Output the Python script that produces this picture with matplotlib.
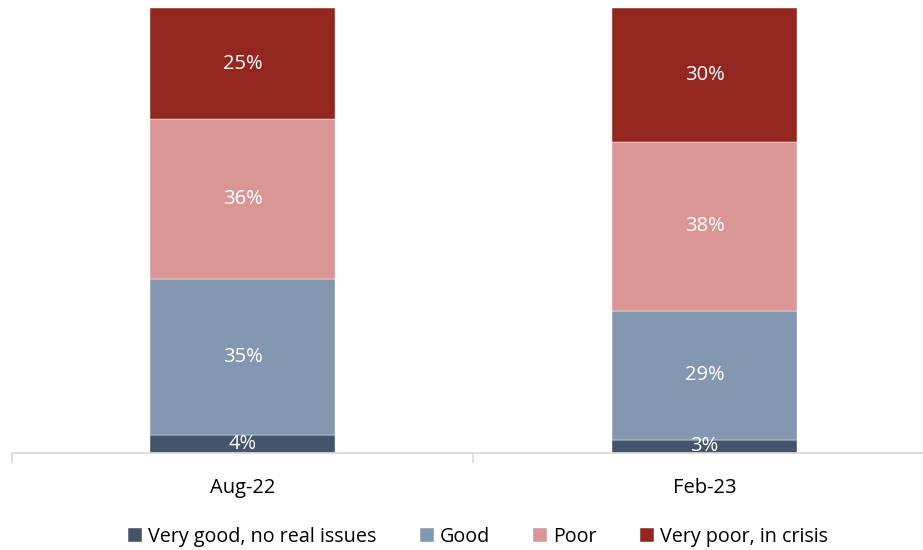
import matplotlib.pyplot as plt
from matplotlib.ticker import FixedLocator

plt.rcParams["font.family"] = ["Open Sans", "DejaVu Sans"]

periods = ["Aug-22", "Feb-23"]
series_names = ["Very good, no real issues", "Good", "Poor", "Very poor, in crisis"]
very_good = [4, 3]
good = [35, 29]
poor = [36, 38]
very_poor = [25, 30]
colors = ["#44546A", "#8497B0", "#DA9694", "#93261F"]

W, H = 923, 550
fig = plt.figure(figsize=(W / 100, H / 100), dpi=100)
# axis spans one slot per period; right end runs off the canvas
ax = fig.add_axes([11.5 / W, (H - 453) / H, 924 / W, 445 / H])

x = range(len(periods))
bottom = [0, 0]
for name, vals, col in zip(series_names, [very_good, good, poor, very_poor], colors):
    ax.bar(x, vals, width=0.40, bottom=bottom, color=col, label=name,
           edgecolor="white", linewidth=0.3)
    for i, v in enumerate(vals):
        ax.text(i, bottom[i] + v / 2, f"{v}%", ha="center", va="center",
                color="white", fontsize=14.5)
    bottom = [b + v for b, v in zip(bottom, vals)]

ax.set_xlim(-0.5, 1.5)
ax.set_ylim(0, 100)
ax.set_yticks([])
for s in ["top", "right", "left"]:
    ax.spines[s].set_visible(False)
ax.spines["bottom"].set_color("#D9D9D9")
ax.spines["bottom"].set_linewidth(1.2)

ax.set_xticks(list(x))
ax.set_xticklabels(periods, fontsize=14.5)
ax.tick_params(axis="x", which="major", length=0, pad=18)
ax.xaxis.set_minor_locator(FixedLocator([-0.5, 0.5, 1.5]))
ax.tick_params(axis="x", which="minor", length=7, color="#D9D9D9", width=1.2)

fig.legend(loc="center", bbox_to_anchor=(478 / W, 1 - 537 / H), ncol=4,
           frameon=False, fontsize=14.2, handlelength=0.7, handleheight=0.7,
           handletextpad=0.3, columnspacing=2.2)

fig.savefig("out.png", dpi=100)
